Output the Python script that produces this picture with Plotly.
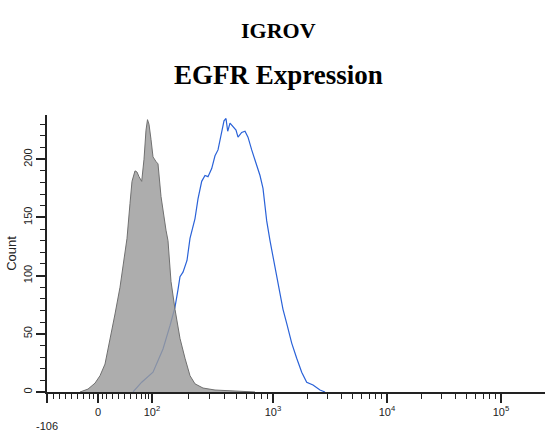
import plotly.graph_objects as go
import numpy as np

# Display channel (x) in logicle display units; counts on y
iso_x = [33, 41, 48, 53, 58, 63, 68, 73, 77, 80, 83, 85, 88, 90, 92, 94.7, 97, 99, 100.5, 102, 104, 106,
         109, 111, 114, 117, 119, 121, 124, 128, 133, 138, 143, 148, 156, 168, 188, 208]
iso_y = [0, 2.5, 7.6, 14, 24, 44, 67, 90, 114, 132, 162, 181, 190, 189, 185, 181, 200, 225, 234, 230, 217, 202,
         198, 196, 168, 148, 139, 130, 95, 71, 46, 29, 14, 7, 3.4, 1.7, 0.8, 0]

egfr_x = [86, 94.7, 106, 116, 123, 128, 131, 133, 136, 140, 143, 148, 151, 154.7, 158, 161, 164.7, 168, 171,
          174.7, 177, 179, 180.7, 183, 186, 189, 191, 194.7, 198, 201, 204.7, 209.7, 213, 216, 219.7, 223,
          226, 229.7, 233, 236, 239.7, 244.7, 249.7, 254.7, 259.7, 266, 273, 278]
egfr_y = [0, 8.4, 17, 37, 57, 73, 88, 99, 103, 113, 132, 149, 166, 181, 186, 185, 192, 203, 208,
          223, 233, 235, 224, 231, 228, 225, 219, 223, 224, 219, 208, 194, 186, 175, 147, 130,
          116, 99, 84, 71, 59, 42, 29, 17, 8.4, 6, 1.7, 0]

major_pos = [0, 51, 105, 226, 340, 454]
major_text = ["<br>-106", "0", "10<sup>2</sup>", "10<sup>3</sup>", "10<sup>4</sup>", "10<sup>5</sup>"]
neg_minor = [6, 12, 18, 24, 30, 36, 42, 46]
lin_minor = [55, 59, 65, 71, 77, 83.5, 89.7, 94, 98, 101]
decades = [(105, 226), (226, 340), (340, 454)]
log_minor = [lo + (hi - lo) * np.log10(k) for lo, hi in decades for k in range(2, 10)]
minor_pos = neg_minor + lin_minor + log_minor

fig = go.Figure()
fig.add_trace(go.Scatter(x=egfr_x, y=egfr_y, mode="lines",
                         line=dict(color="#2a62d8", width=1.2), hoverinfo="skip"))
fig.add_trace(go.Scatter(x=iso_x, y=iso_y, mode="lines", fill="tozeroy",
                         fillcolor="rgba(155,155,155,0.82)",
                         line=dict(color="#707070", width=1), hoverinfo="skip"))

tickfont = dict(family="Arial, Liberation Sans, sans-serif", size=11, color="#222")
fig.update_layout(
    width=545, height=432,
    margin=dict(l=47, r=0, t=115, b=35),
    paper_bgcolor="white", plot_bgcolor="white",
    showlegend=False,
    xaxis=dict(range=[0, 498], showgrid=False, zeroline=False,
               showline=True, linecolor="#222", linewidth=1.5,
               tickmode="array", tickvals=major_pos, ticktext=major_text,
               ticks="outside", ticklen=9, tickwidth=1.5, tickcolor="#222",
               tickfont=tickfont,
               minor=dict(tickvals=minor_pos, ticks="outside", ticklen=5,
                          tickwidth=1.2, tickcolor="#222", showgrid=False)),
    yaxis=dict(range=[0, 238], showgrid=False, zeroline=False,
               showline=True, linecolor="#222", linewidth=1.5,
               tickmode="array", tickvals=[0, 50, 100, 150, 200],
               ticks="outside", ticklen=9, tickwidth=1.5, tickcolor="#222",
               tickangle=-90, tickfont=tickfont,
               title=dict(text="Count", font=dict(family="Arial, Liberation Sans, sans-serif",
                                                  size=13, color="#222"), standoff=2),
               minor=dict(dtick=10, ticks="outside", ticklen=5, tickwidth=1.2,
                          tickcolor="#222", showgrid=False)),
    annotations=[
        dict(text="<b>IGROV</b>", xref="paper", yref="paper", x=0.464, y=1.305,
             showarrow=False, xanchor="center", yanchor="middle",
             font=dict(family="Liberation Serif, Times New Roman, serif", size=22, color="black")),
        dict(text="<b>EGFR Expression</b>", xref="paper", yref="paper", x=0.464, y=1.145,
             showarrow=False, xanchor="center", yanchor="middle",
             font=dict(family="Liberation Serif, Times New Roman, serif", size=27, color="black")),
    ],
)
fig.write_html("out.html")
